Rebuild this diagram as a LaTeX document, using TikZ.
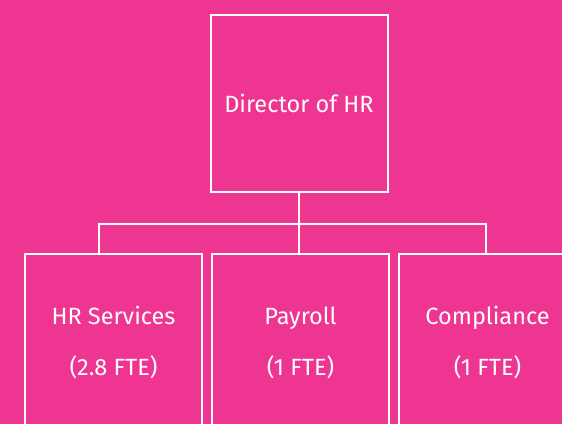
\documentclass[tikz,border=0pt]{standalone}
\usepackage{fontspec}
\setmainfont{Fira Sans}
\usetikzlibrary{positioning}

\definecolor{hrpink}{RGB}{238,53,146}

\begin{document}
\begin{tikzpicture}[x=1pt, y=-1pt,
    orgbox/.style={draw=white, line width=2pt, minimum width=177pt, minimum height=177pt,
        inner sep=0pt, text=white, align=center, font=\fontsize{23.5}{51}\selectfont},
    conn/.style={draw=white, line width=2pt}]

    % --- Page ---
    \fill[hrpink] (0,0) rectangle (562,424);
    \useasboundingbox (0,0) rectangle (562,424);

    % --- Boxes ---
    \begin{scope}
    \clip (0,0) rectangle (562,424);
    \node[orgbox] (hr) at (113.5,342.5) {HR Services\\(2.8 FTE)};
    \node[orgbox, right=8pt of hr] (pay) {Payroll\\(1 FTE)};
    \node[orgbox, right=8pt of pay] (comp) {Compliance\\(1 FTE)};
    \node[orgbox, above=60pt of pay.north, anchor=south, xshift=-1.5pt] (dir) {Director of HR};
    \end{scope}

    % --- Reporting lines ---
    \coordinate (bus) at ([yshift=-31pt]dir.south);
    \draw[conn] (dir.south) -- (bus);
    \draw[conn] (bus) -- (bus |- pay.north);
    \draw[conn] ([xshift=-14.5pt]hr.north) |- (bus) -| ([xshift=-1.5pt]comp.north);

\end{tikzpicture}
\end{document}
